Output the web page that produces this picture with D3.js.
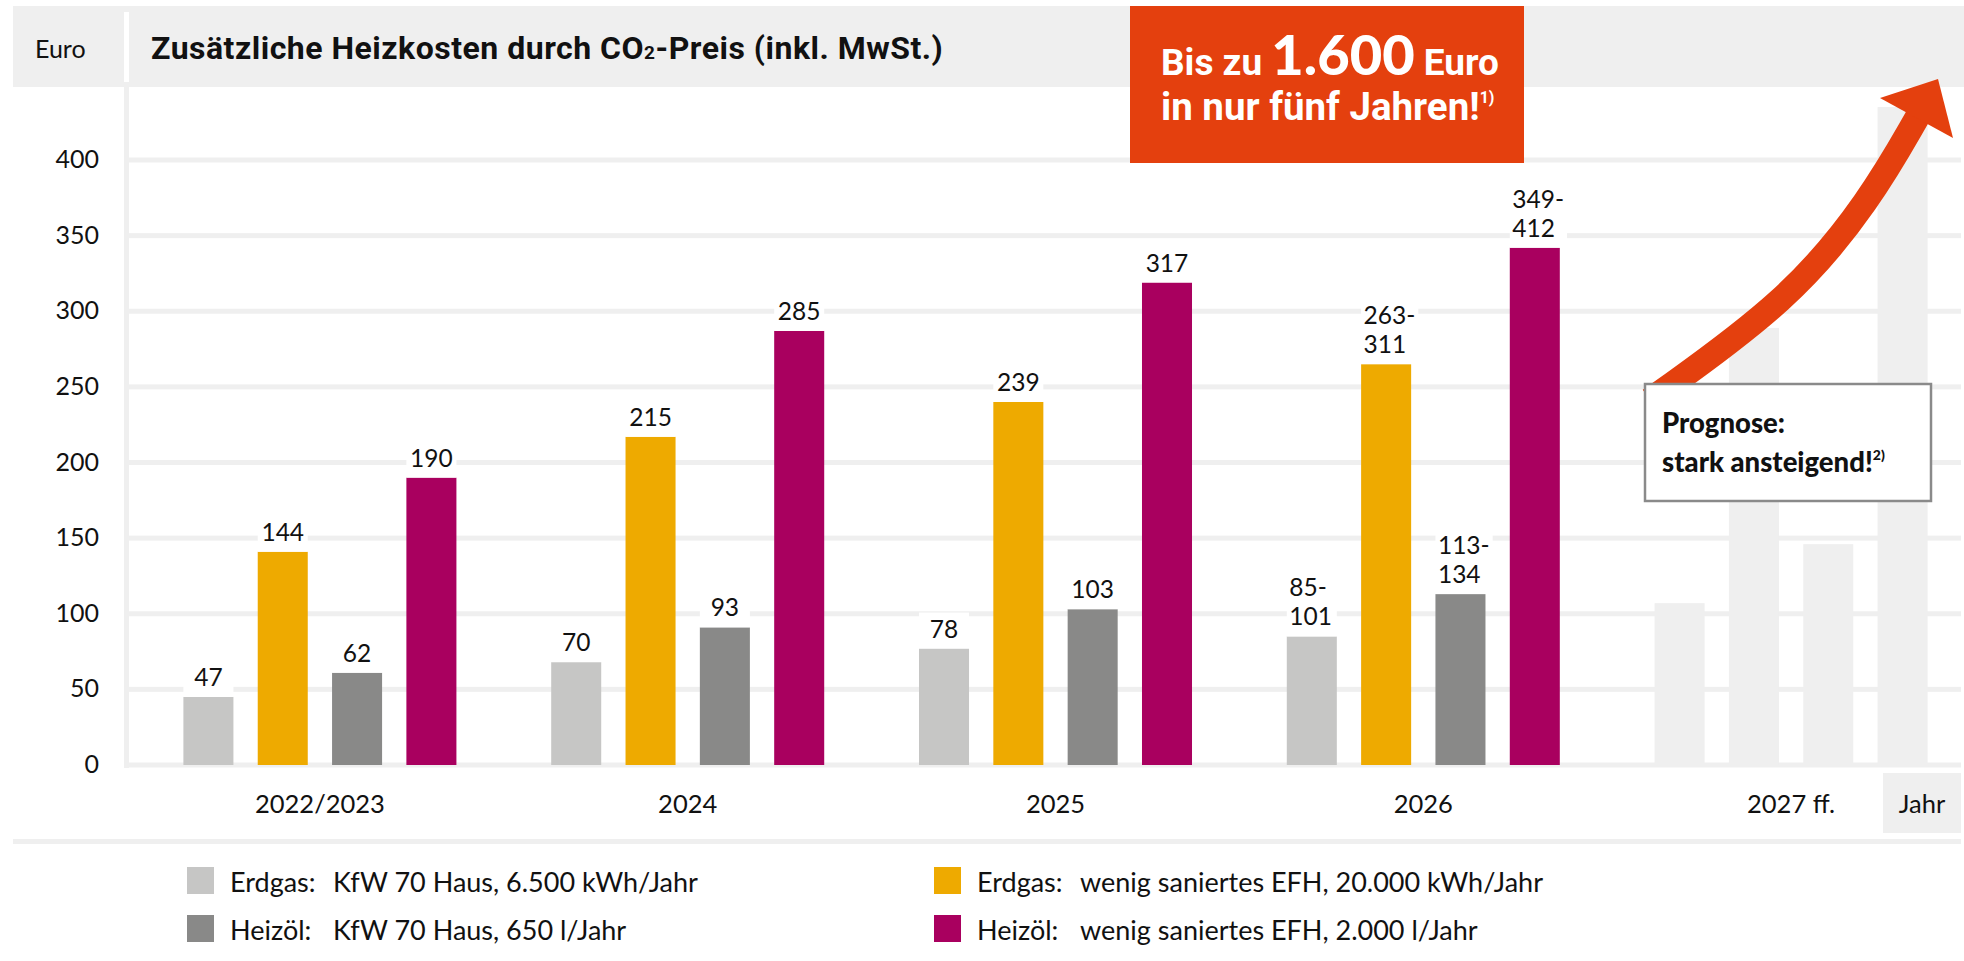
<!DOCTYPE html>
<html>
<head>
<meta charset="utf-8">
<script src="https://cdn.jsdelivr.net/npm/d3@7"></script>
<style>
  body { margin: 0; background: #fff; }
  svg { display: block; font-family: Lato, "Open Sans", sans-serif; }
</style>
</head>
<body>
<script>
// categories and series
const years = ["2022/2023", "2024", "2025", "2026", "2027 ff."];
const series = ["gasKfw", "gasEfh", "oilKfw", "oilEfh"];

// bar heights (Euro)
const gasKfw = [45, 68, 77, 85, 107];
const gasEfh = [141, 217, 240, 265, 289];
const oilKfw = [61, 91, 103, 113, 146];
const oilEfh = [190, 287, 319, 342, 435];

// printed value labels
const gasKfwLabels = ["47", "70", "78", "85-101", ""];
const gasEfhLabels = ["144", "215", "239", "263-311", ""];
const oilKfwLabels = ["62", "93", "103", "113-134", ""];
const oilEfhLabels = ["190", "285", "317", "349-412", ""];

const yTicks = [0, 50, 100, 150, 200, 250, 300, 350, 400];

const legendKeys = ["Erdgas:", "Heizöl:", "Erdgas:", "Heizöl:"];
const legendTexts = ["KfW 70 Haus, 6.500 kWh/Jahr", "KfW 70 Haus, 650 l/Jahr",
                     "wenig saniertes EFH, 20.000 kWh/Jahr", "wenig saniertes EFH, 2.000 l/Jahr"];
const legendSeries = ["gasKfw", "oilKfw", "gasEfh", "oilEfh"];

const values = {gasKfw, gasEfh, oilKfw, oilEfh};
const labels = {gasKfw: gasKfwLabels, gasEfh: gasEfhLabels, oilKfw: oilKfwLabels, oilEfh: oilEfhLabels};

const orange = "#e4400e";
const lightBg = "#efefef";
const color = d3.scaleOrdinal()
    .domain(series)
    .range(["#c6c6c5", "#eeaa00", "#898988", "#a9005f"]);

const svg = d3.select("body").append("svg")
    .attr("width", 1964)
    .attr("height", 961);

const y = d3.scaleLinear().domain([0, 400]).range([765, 160]);

const x0 = d3.scaleBand()
    .domain(years)
    .range([183.4, 1927.6])
    .paddingInner(0.2577)
    .paddingOuter(0);

const x1 = d3.scaleBand()
    .domain(series)
    .range([0, x0.bandwidth()])
    .paddingInner(0.327)
    .paddingOuter(0);

// gridlines
svg.append("g")
  .selectAll("rect")
  .data(yTicks)
  .enter().append("rect")
  .attr("x", 124)
  .attr("y", d => y(d) - 2.5)
  .attr("width", 1961 - 124)
  .attr("height", 5)
  .style("fill", lightBg);

// vertical axis line
svg.append("rect")
  .attr("x", 124).attr("y", 87)
  .attr("width", 5).attr("height", 768 - 87)
  .style("fill", lightBg);

// y tick labels
const yAxis = svg.append("g")
  .attr("transform", "translate(99,0)")
  .call(d3.axisLeft(y).tickValues(yTicks).tickSize(0).tickPadding(0));
yAxis.select(".domain").remove();
yAxis.selectAll("text")
  .style("font-family", "Lato, sans-serif")
  .style("font-size", "25px")
  .style("fill", "#111")
  .attr("dy", "0.3em");

// bars
const rows = years.map((yr, i) => ({
  year: yr,
  faded: i === years.length - 1,
  bars: series.map(s => ({key: s, value: values[s][i], label: labels[s][i]}))
}));

const groups = svg.append("g")
  .selectAll("g")
  .data(rows)
  .enter().append("g")
  .attr("transform", d => "translate(" + x0(d.year) + ",0)");

groups.selectAll("rect.bar")
  .data(d => d.bars.map(b => Object.assign({faded: d.faded}, b)))
  .enter().append("rect")
  .attr("class", "bar")
  .attr("x", d => x1(d.key))
  .attr("y", d => y(d.value))
  .attr("width", x1.bandwidth())
  .attr("height", d => y(0) - y(d.value))
  .style("fill", d => d.faded ? lightBg : color(d.key));

// value labels with white knock-out box
groups.each(function(row) {
  const g = d3.select(this);
  row.bars.forEach(b => {
    if (!b.label) return;
    const bx = x1(b.key), bw = x1.bandwidth(), top = y(b.value);
    const parts = b.label.split("-");
    const lines = parts.length > 1 ? [parts[0] + "-", parts[1]] : [b.label];
    const box = g.append("rect").style("fill", "#fff");
    const t = g.append("text")
      .style("font-size", "24.5px")
      .style("fill", "#111")
      .attr("text-anchor", lines.length > 1 ? "start" : "middle");
    lines.forEach((ln, k) => {
      t.append("tspan")
        .attr("x", lines.length > 1 ? bx + 2.5 : bx + bw / 2)
        .attr("y", top - 11 - (lines.length - 1 - k) * 29)
        .text(ln);
    });
    const bb = t.node().getBBox();
    const left = Math.min(bx, bb.x - 2);
    const right = Math.max(bx + bw, bb.x + bb.width + 3);
    box.attr("x", left).attr("y", bb.y - 1)
      .attr("width", right - left)
      .attr("height", top - bb.y + 1);
  });
});

// x labels
svg.append("g")
  .selectAll("text")
  .data(years)
  .enter().append("text")
  .attr("x", d => x0(d) + x0.bandwidth() / 2)
  .attr("y", 813)
  .attr("text-anchor", "middle")
  .style("font-size", "25.5px")
  .style("fill", "#111")
  .text(d => d);

// separator under x labels
svg.append("rect")
  .attr("x", 13).attr("y", 839)
  .attr("width", 1961 - 13).attr("height", 5)
  .style("fill", lightBg);

// "Jahr" box
svg.append("rect")
  .attr("x", 1883).attr("y", 773)
  .attr("width", 78).attr("height", 60)
  .style("fill", lightBg);
svg.append("text")
  .attr("x", 1922).attr("y", 813)
  .attr("text-anchor", "middle")
  .style("font-size", "25.5px")
  .style("fill", "#111")
  .text("Jahr");

// header band
svg.append("rect")
  .attr("x", 13).attr("y", 6)
  .attr("width", 1964 - 13).attr("height", 81)
  .style("fill", lightBg);
svg.append("rect")
  .attr("x", 124).attr("y", 12)
  .attr("width", 5).attr("height", 70)
  .style("fill", "#fff");
svg.append("text")
  .attr("x", 35).attr("y", 58)
  .style("font-size", "25px")
  .style("fill", "#111")
  .text("Euro");
const title = svg.append("text")
  .attr("x", 151).attr("y", 59)
  .style("font-family", "Roboto, sans-serif")
  .style("font-weight", "bold")
  .style("font-size", "32px")
  .style("letter-spacing", "0.5px")
  .style("fill", "#111");
title.append("tspan").text("Zusätzliche Heizkosten durch CO");
title.append("tspan").style("font-size", "19px").text("2");
title.append("tspan").text("-Preis (inkl. MwSt.)");

// orange call-out
svg.append("rect")
  .attr("x", 1130).attr("y", 6)
  .attr("width", 394).attr("height", 157)
  .style("fill", orange);
const callout = svg.append("text")
  .style("font-family", "Roboto, sans-serif")
  .style("font-weight", "bold")
  .style("fill", "#fff");
const l1 = callout.append("tspan").attr("x", 1161).attr("y", 75);
l1.append("tspan").style("font-size", "37px").text("Bis zu ");
l1.append("tspan").style("font-size", "56px").style("font-family", "Lato, sans-serif").style("font-weight", 900).text("1.600");
l1.append("tspan").style("font-size", "37px").text(" Euro");
const l2 = callout.append("tspan").attr("x", 1161).attr("y", 120);
l2.append("tspan").style("font-size", "38.5px").text("in nur fünf Jahren!");
l2.append("tspan").style("font-size", "16px").attr("dy", -17).text("1)");

// arrow
svg.append("path")
  .attr("d", d3.line().curve(d3.curveBasis)([[1650, 400], [1790, 300], [1870, 200], [1918, 116]]))
  .style("fill", "none")
  .style("stroke", orange)
  .style("stroke-width", 25);
svg.append("path")
  .attr("d", "M1880,98 L1938,79 L1953,138 Z")
  .style("fill", orange);

// forecast note
svg.append("rect")
  .attr("x", 1645).attr("y", 384)
  .attr("width", 286).attr("height", 117)
  .style("fill", "#fff")
  .style("stroke", "#8a8a8a")
  .style("stroke-width", 2.5);
const note = svg.append("text")
  .style("font-weight", 900)
  .style("font-size", "27.5px")
  .style("fill", "#111");
note.append("tspan").attr("x", 1662).attr("y", 433).text("Prognose:");
const n2 = note.append("tspan").attr("x", 1662).attr("y", 472);
n2.append("tspan").text("stark ansteigend!");
n2.append("tspan").style("font-size", "14px").attr("dy", -12).text("2)");

// legend
const legend = svg.append("g")
  .selectAll("g")
  .data(legendSeries)
  .enter().append("g")
  .attr("transform", (d, i) => "translate(" + (i < 2 ? 187 : 934) + "," + (i % 2 ? 915 : 867) + ")");
legend.append("rect")
  .attr("width", 27).attr("height", 27)
  .style("fill", d => color(d));
legend.append("text")
  .attr("x", 43).attr("y", 25)
  .style("font-size", "27px")
  .style("fill", "#111")
  .text((d, i) => legendKeys[i]);
legend.append("text")
  .attr("x", 146).attr("y", 25)
  .style("font-size", "27px")
  .style("fill", "#111")
  .text((d, i) => legendTexts[i]);
</script>
</body>
</html>
